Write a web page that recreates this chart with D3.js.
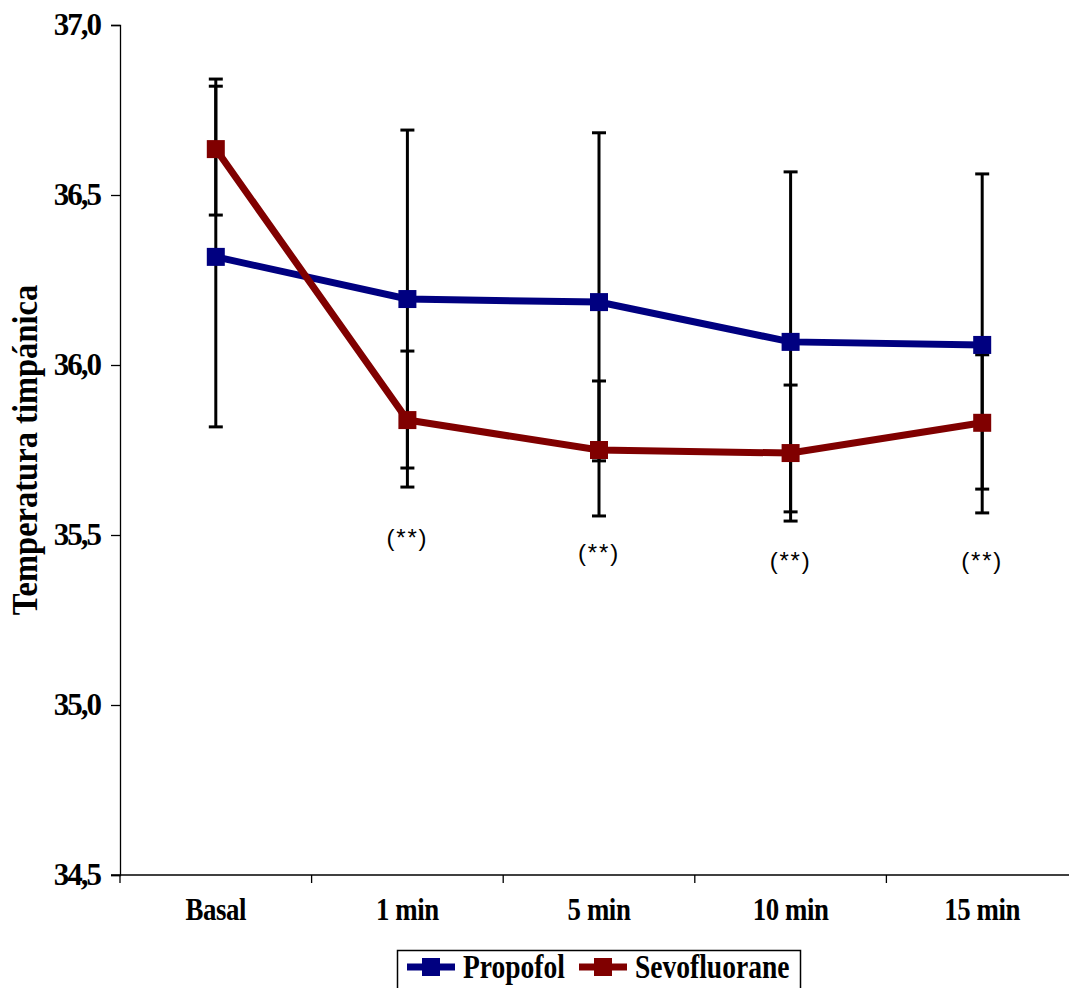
<!DOCTYPE html>
<html>
<head>
<meta charset="utf-8">
<script src="https://cdn.jsdelivr.net/npm/d3@7"></script>
<style>
  html, body { margin: 0; padding: 0; background: #fff; }
  svg { display: block; }
</style>
</head>
<body>
<div id="chart"></div>
<script>
// Time points
const categories = ["Basal", "1 min", "5 min", "10 min", "15 min"];

// Tympanic temperature (°C): means and error bar limits
const propofolMean  = [36.318, 36.194, 36.185, 36.068, 36.059];
const propofolUpper = [36.820, 36.691, 36.683, 36.568, 36.562];
const propofolLower = [35.818, 35.697, 35.718, 35.568, 35.565];

const sevoMean  = [36.635, 35.838, 35.750, 35.741, 35.830];
const sevoUpper = [36.841, 36.041, 35.953, 35.941, 36.030];
const sevoLower = [36.441, 35.641, 35.556, 35.541, 35.635];

// Significance marks under each time point (null = none), placed at a temperature level
const starLabels   = [null, "(**)", "(**)", "(**)", "(**)"];
const starLevels   = [null, 35.491, 35.447, 35.424, 35.424];

const yTicks = [34.5, 35.0, 35.5, 36.0, 36.5, 37.0];
const seriesNames = ["Propofol", "Sevofluorane"];
const seriesColors = ["#000080", "#800000"];

const W = 1069, H = 988;
const svg = d3.select("#chart").append("svg")
  .attr("width", W).attr("height", H);

const x = d3.scaleBand().domain(categories).range([120, 1078]);
const y = d3.scaleLinear().domain([34.5, 37.0]).range([875, 25]);
const cx = d => x(d) + x.bandwidth() / 2;

const serif = "'Liberation Serif', 'Times New Roman', serif";

// Y axis
const yAxis = svg.append("g")
  .attr("transform", "translate(120,0)")
  .call(d3.axisLeft(y).tickValues(yTicks).tickSize(9).tickPadding(11)
    .tickFormat(d => d3.format(".1f")(d).replace(".", ",")));
yAxis.select(".domain").attr("stroke", "#000").attr("stroke-width", 1.3);
yAxis.selectAll(".tick line").attr("stroke", "#000").attr("stroke-width", 1.3);
yAxis.selectAll(".tick text")
  .attr("font-family", serif).attr("font-weight", "bold")
  .attr("font-size", 31).attr("fill", "#000")
  .attr("letter-spacing", -2);

// X axis: ticks at category boundaries
const xAxis = svg.append("g").attr("transform", "translate(0,875)");
xAxis.append("line")
  .attr("x1", 111).attr("x2", 1078).attr("y1", 0).attr("y2", 0)
  .attr("stroke", "#000").attr("stroke-width", 1.3);
const bounds = categories.map(c => x(c)).concat([x(categories[categories.length - 1]) + x.bandwidth()]);
xAxis.selectAll("line.xt").data(bounds).join("line")
  .attr("class", "xt")
  .attr("x1", d => d).attr("x2", d => d).attr("y1", 0).attr("y2", 8)
  .attr("stroke", "#000").attr("stroke-width", 1.3);
svg.selectAll("text.xl").data(categories).join("text")
  .attr("class", "xl")
  .attr("transform", d => `translate(${cx(d)},920) scale(0.84,1)`)
  .attr("text-anchor", "middle")
  .attr("font-family", serif).attr("font-weight", "bold")
  .attr("font-size", 32).attr("fill", "#000")
  .attr("letter-spacing", -0.5)
  .text(d => d);

// Y axis title
svg.append("text")
  .attr("transform", "translate(37,450) rotate(-90) scale(0.93,1)")
  .attr("text-anchor", "middle")
  .attr("font-family", serif).attr("font-weight", "bold")
  .attr("font-size", 35).attr("fill", "#000")
  .text("Temperatura timpánica");

// Error bars
const series = [
  { name: seriesNames[0], color: seriesColors[0], mean: propofolMean, lo: propofolLower, hi: propofolUpper },
  { name: seriesNames[1], color: seriesColors[1], mean: sevoMean, lo: sevoLower, hi: sevoUpper }
];
const capW = 7;
const eg = svg.append("g").attr("stroke", "#000").attr("stroke-width", 3);
series.forEach(s => {
  categories.forEach((c, i) => {
    const xc = cx(c);
    eg.append("line").attr("x1", xc).attr("x2", xc).attr("y1", y(s.hi[i])).attr("y2", y(s.lo[i]));
    eg.append("line").attr("x1", xc - capW).attr("x2", xc + capW).attr("y1", y(s.hi[i])).attr("y2", y(s.hi[i]));
    eg.append("line").attr("x1", xc - capW).attr("x2", xc + capW).attr("y1", y(s.lo[i])).attr("y2", y(s.lo[i]));
  });
});

// Lines
const line = d3.line().x((d, i) => cx(categories[i])).y(d => y(d));
series.forEach(s => {
  svg.append("path").datum(s.mean)
    .attr("fill", "none").attr("stroke", s.color)
    .attr("stroke-width", 7).attr("stroke-linejoin", "miter")
    .attr("d", line);
});

// Square markers
const ms = 18;
series.forEach(s => {
  svg.append("g").selectAll("rect").data(s.mean).join("rect")
    .attr("x", (d, i) => cx(categories[i]) - ms / 2)
    .attr("y", d => y(d) - ms / 2)
    .attr("width", ms).attr("height", ms)
    .attr("fill", s.color);
});

// Significance labels
svg.selectAll("text.sig").data(categories.filter((c, i) => starLabels[i] !== null)).join("text")
  .attr("class", "sig")
  .attr("x", c => cx(c))
  .attr("y", c => y(starLevels[categories.indexOf(c)]))
  .attr("dy", "0.35em")
  .attr("text-anchor", "middle")
  .attr("font-family", "'Liberation Sans', Arial, sans-serif")
  .attr("font-size", 24).attr("fill", "#000")
  .attr("letter-spacing", 1.8)
  .text(c => starLabels[categories.indexOf(c)]);

// Legend
const lg = svg.append("g");
lg.append("rect")
  .attr("x", 397.5).attr("y", 950.5).attr("width", 403).attr("height", 60)
  .attr("fill", "#fff").attr("stroke", "#000").attr("stroke-width", 1.5);
const legendX = [407, 579];
series.forEach((s, i) => {
  const x0 = legendX[i];
  lg.append("line").attr("x1", x0).attr("x2", x0 + 48).attr("y1", 967).attr("y2", 967)
    .attr("stroke", s.color).attr("stroke-width", 7);
  lg.append("rect").attr("x", x0 + 24 - ms / 2).attr("y", 967 - ms / 2)
    .attr("width", ms).attr("height", ms).attr("fill", s.color);
  lg.append("text")
    .attr("transform", `translate(${x0 + 56},978) scale(0.81,1)`)
    .attr("font-family", serif).attr("font-weight", "bold")
    .attr("font-size", 34).attr("fill", "#000")
    .text(s.name);
});
</script>
</body>
</html>
